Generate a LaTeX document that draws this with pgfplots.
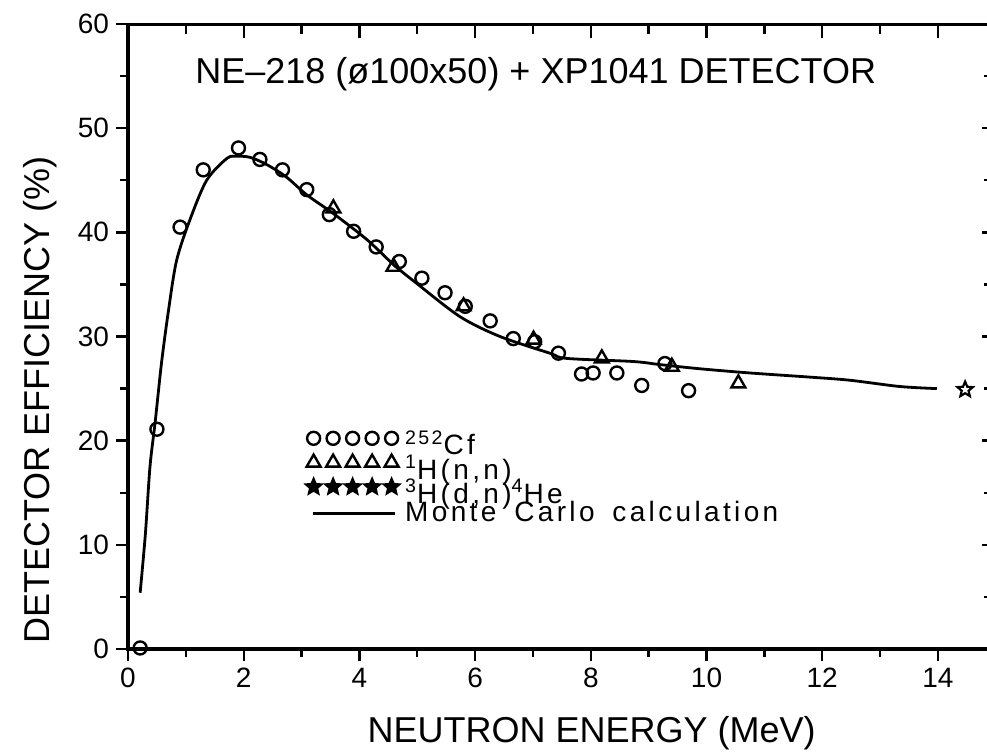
\documentclass[border=0pt]{standalone}
\usepackage{fontspec}
\setmainfont{Liberation Sans}
\newfontfamily\legfont[LetterSpace=12,WordSpace=1.6]{Liberation Sans}
\usepackage{pgfplots}
\pgfplotsset{compat=1.18}

\pgfdeclareplotmark{ostar}{%
  \pgfpathmoveto{\pgfpointpolar{90}{\pgfplotmarksize}}%
  \pgfpathlineto{\pgfpointpolar{126}{0.45\pgfplotmarksize}}%
  \pgfpathlineto{\pgfpointpolar{162}{\pgfplotmarksize}}%
  \pgfpathlineto{\pgfpointpolar{198}{0.45\pgfplotmarksize}}%
  \pgfpathlineto{\pgfpointpolar{234}{\pgfplotmarksize}}%
  \pgfpathlineto{\pgfpointpolar{270}{0.45\pgfplotmarksize}}%
  \pgfpathlineto{\pgfpointpolar{306}{\pgfplotmarksize}}%
  \pgfpathlineto{\pgfpointpolar{342}{0.45\pgfplotmarksize}}%
  \pgfpathlineto{\pgfpointpolar{18}{\pgfplotmarksize}}%
  \pgfpathlineto{\pgfpointpolar{54}{0.45\pgfplotmarksize}}%
  \pgfpathclose\pgfusepathqfillstroke}

\pgfplotsset{
  fivemarks/.style={legend image code/.code={%
    \path[##1] plot[only marks] coordinates {(0pt,5pt) (9.75pt,5pt) (19.5pt,5pt) (29.25pt,5pt) (39pt,5pt)};}},
  fivestars/.style={legend image code/.code={%
    \path[##1, mark options={fill=black}] plot[only marks] coordinates {(0pt,5pt) (9.75pt,5pt) (19.5pt,5pt) (29.25pt,5pt) (39pt,5pt)};}},
  lineimg/.style={legend image code/.code={%
    \draw[##1] (-0.5pt,0.5pt) -- (40.5pt,0.5pt);}},
  frame/.style={at={(64pt,51pt)}, anchor=south west, scale only axis,
    width=431pt, height=312.5pt, xmin=0, xmax=14.9, ymin=0, ymax=60,
    every tick/.style={black, line width=1.2pt},
    axis line style={line width=1.5pt}},
}

\begin{document}
\begin{tikzpicture}
\useasboundingbox (0,0) rectangle (493.5pt,375.5pt);
\begin{axis}[frame,
  xtick={0,2,...,14}, minor xtick={1,3,...,13},
  ytick={0,10,...,60}, minor ytick={5,15,...,55},
  xtick pos=bottom, ytick pos=left, tick align=outside,
  major tick length=6pt, minor tick length=4pt,
  ticklabel style={font=\fontsize{14}{14}\selectfont},
  /pgf/number format/assume math mode=true,
  xlabel={NEUTRON ENERGY (MeV)}, ylabel={DETECTOR EFFICIENCY (\%)},
  every axis x label/.style={at={(axis description cs:0.538,0)}, yshift=-42pt, anchor=center, font=\fontsize{18}{18}\selectfont},
  every axis y label/.style={at={(axis description cs:0,0.398)}, xshift=-44pt, anchor=center, rotate=90, font=\fontsize{18}{18}\selectfont},
  legend style={at={(rel axis cs:0.2065,0.3475)}, anchor=north west, draw=none, fill=none,
    inner sep=0pt, outer sep=0pt, row sep=-2.6pt, column sep=3pt,
    font=\legfont\fontsize{14}{14}\selectfont,
    nodes={inner sep=0pt, text height=9pt, text depth=2.5pt}},
  legend cell align=left,
  clip=false,
]
\addplot[only marks, mark=o, mark size=3.25pt, line width=1.2pt, fivemarks] coordinates {
(0.21,0.1) (0.50,21.1) (0.90,40.5) (1.30,46.0) (1.91,48.1) (2.28,47.0) (2.67,46.0)
(3.09,44.1) (3.48,41.7) (3.90,40.1) (4.29,38.6) (4.69,37.2) (5.08,35.6) (5.48,34.2)
(5.83,32.9) (6.26,31.5) (6.66,29.8) (7.03,29.5) (7.44,28.4) (7.84,26.4) (8.04,26.5)
(8.45,26.5) (8.88,25.3) (9.28,27.4) (9.69,24.8)
};
\addlegendentry{\textsuperscript{252}Cf}
\addplot[only marks, mark=triangle, mark size=4pt, line width=1.2pt, fivemarks] coordinates {
(3.55,42.3) (4.59,36.7) (5.80,32.9) (7.01,29.7) (8.19,27.9) (9.40,27.1) (10.55,25.5)
};
\addlegendentry{\textsuperscript{1}H(n,n)}
\addplot[only marks, mark=ostar, mark size=4pt, line width=1.1pt, mark options={fill=white}, fivestars] coordinates {
(14.47,24.9)
};
\addlegendentry{\textsuperscript{3}H(d,n)\textsuperscript{4}He}
\addplot[black, line width=1.4pt, smooth, tension=0.5, lineimg] coordinates {
(0.21,5.4) (0.30,11.0) (0.38,17.5) (0.47,21.8) (0.58,27.5) (0.70,32.5) (0.84,37.3)
(1.07,41.2) (1.36,45.0) (1.71,47.1) (1.88,47.3) (2.11,47.2) (2.40,46.5) (2.74,45.3)
(3.09,43.6) (3.55,41.8) (4.13,39.3) (4.59,36.9) (4.99,35.1) (5.74,31.9) (6.43,30.0)
(7.29,28.4) (7.58,27.9) (8.73,27.6) (9.20,27.3) (9.89,26.9) (10.75,26.5) (11.79,26.1)
(12.48,25.8) (13.34,25.2) (13.98,25.0)
};
\addlegendentry{Monte Carlo calculation}
\node[font=\fontsize{18}{18}\selectfont] at (rel axis cs:0.473,0.92) {NE–218 (ø100x50) + XP1041 DETECTOR};
\end{axis}
\begin{axis}[frame, xtick={2,4,...,14}, minor xtick={1,3,...,13}, ytick=\empty,
  xtick pos=top, tick align=inside, xticklabels={},
  major tick length=7pt, minor tick length=5pt]
\end{axis}
\begin{axis}[frame, xtick=\empty, ytick={10,20,...,50}, minor ytick={5,15,...,55},
  ytick pos=right, tick align=inside, yticklabels={},
  major tick length=4pt, minor tick length=3pt]
\end{axis}
\end{tikzpicture}
\end{document}
